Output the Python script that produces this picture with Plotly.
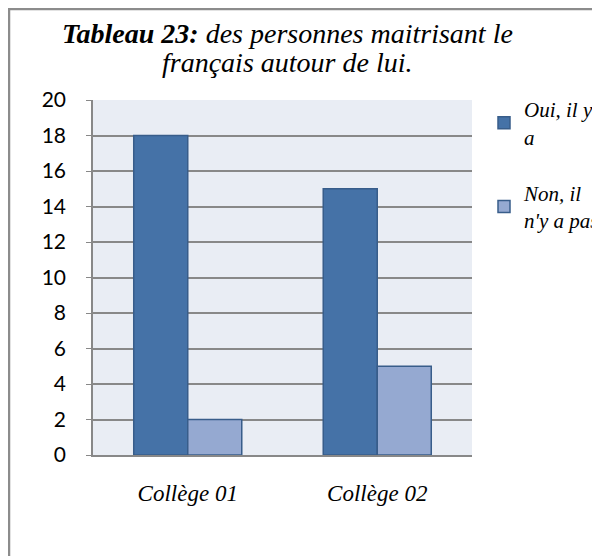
import plotly.graph_objects as go

colleges = ['Collège 01', 'Collège 02']
oui = [18, 15]
non = [2, 5]
series_names = ["Oui, il y<br>a", "Non, il<br>n'y a pas"]
y_ticks = list(range(0, 21, 2))
title_lines = ['<b>Tableau 23:</b> des personnes maitrisant le',
               'français autour de lui.']

SERIF = 'Liberation Serif'

# the page body adds an 8px offset, so figure pixels = screen pixels - 8
L, T = 85, 92
PW, PH = 379, 355

fig = go.Figure()
fig.add_trace(go.Bar(
    x=colleges, y=oui, name=series_names[0], legendgroup='oui',
    marker=dict(color='#4572a7', line=dict(color='#385d8a', width=1.5))
))
fig.add_trace(go.Bar(
    x=colleges, y=non, name=series_names[1], legendgroup='non',
    marker=dict(color='#95a9d1', line=dict(color='#385d8a', width=1.5))
))

fig.update_layout(
    width=600, height=556,
    margin=dict(l=L, r=600 - L - PW, t=T, b=556 - T - PH, autoexpand=False),
    paper_bgcolor='white',
    plot_bgcolor='#e9edf4',
    barmode='group',
    bargap=0.43,
    bargroupgap=0,
    legend=dict(
        x=476 / 600, xanchor='left', xref='container',
        y=1 - 81 / 556, yanchor='top', yref='container',
        font=dict(family=SERIF, size=21, color='black', style='italic'),
        tracegroupgap=26, bgcolor='rgba(0,0,0,0)'
    ),
    showlegend=True,
)

# two-line title as separate lines to keep the tight line spacing
for line, yc in zip(title_lines, [25, 55]):
    fig.add_annotation(
        text=f'<i>{line}</i>', showarrow=False,
        xref='paper', yref='paper',
        x=(279 - L) / PW, y=1 + (T - yc) / PH,
        xanchor='center', yanchor='middle',
        font=dict(family=SERIF, size=28, color='black')
    )

fig.update_yaxes(
    range=[0, 20], tickvals=y_ticks, automargin=False,
    showgrid=True, gridcolor='#888888', gridwidth=1.5,
    showline=True, linecolor='#888888', linewidth=1.5,
    ticks='outside', ticklen=5, tickcolor='#888888',
    ticklabelstandoff=16,
    tickfont=dict(family='Lato', size=21, color='black'),
    zeroline=False,
)
fig.update_xaxes(
    automargin=False,
    showline=True, linecolor='#888888', linewidth=2,
    ticks='', ticklabelstandoff=16,
    tickfont=dict(family=SERIF, size=23, color='black', style='italic'),
)

# outer chart frame
fig.add_shape(
    type='rect', xref='paper', yref='paper',
    x0=(1 - L) / PW, x1=(620 - L) / PW,
    y0=-(600 - T - PH) / PH, y1=1 + (T - 1) / PH,
    line=dict(color='#8c8c8c', width=2.5), fillcolor='rgba(0,0,0,0)',
    layer='below'
)

fig.write_html('out.html')
